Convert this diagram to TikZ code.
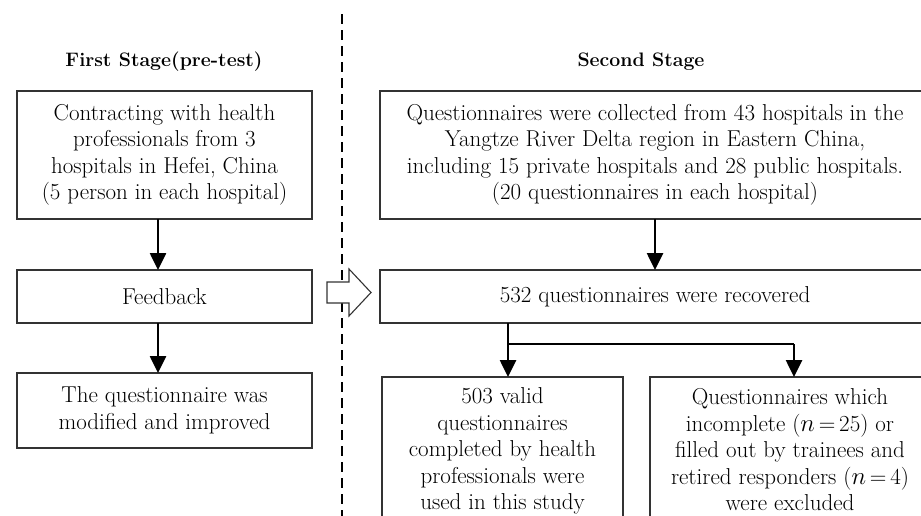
\documentclass[tikz,border=0pt]{standalone}
\usetikzlibrary{arrows.meta}
\begin{document}
\begin{tikzpicture}[x=1pt,y=-1pt,
  box/.style={draw=black!80,line width=1.3pt,fill=white,inner sep=0pt,align=center,font=\fontsize{23}{26.5}\selectfont},
  txt/.style={inner sep=0pt,align=center,font=\fontsize{23}{26.5}\selectfont},
  ttl/.style={font=\fontsize{19.5}{24}\selectfont\bfseries},
  conn/.style={line width=2.6pt,-{Triangle[length=17pt,width=16pt]}},
  sepline/.style={line width=2.4pt,dash pattern=on 10pt off 6pt}]
\useasboundingbox (0,0) rectangle (921,515);
\clip (0,0) rectangle (921,515);
\fill[white] (0,0) rectangle (921,515);
% separator
\draw[sepline] (342,14) -- (342,520);
% titles
\node[ttl] (t1) at (164,62) {First Stage(pre-test)};
\node[ttl] (t2) at (641,62) {Second Stage};
% left column
\node[box,minimum width=295pt,minimum height=128pt] (a1) at (164.5,155) {Contracting with health\\professionals from 3\\hospitals in Hefei, China\\(5 person in each hospital)};
\node[box,minimum width=295pt,minimum height=53pt] (a2) at (164.5,296.5) {Feedback};
\node[box,minimum width=295pt,minimum height=75pt] (a3) at (164.5,410.5) {The questionnaire was\\modified and improved};
\coordinate (a1s) at (158,219);
\coordinate (a2n) at (158,270);
\coordinate (a2s) at (158,323);
\coordinate (a3n) at (158,373);
\draw[conn] (a1s) -- (a2n);
\draw[conn] (a2s) -- (a3n);
% hollow arrow
\draw[draw=black!80,line width=1.1pt,fill=white] (327,282) -- (349,282) -- (349,269) -- (371,292.5) -- (349,316) -- (349,303) -- (327,303) -- cycle;
% right column
\node[box,minimum width=550pt,minimum height=128pt] (b1) at (655,155) {Questionnaires were collected from 43 hospitals in the\\Yangtze River Delta region in Eastern China,\\including 15 private hospitals and 28 public hospitals.\\(20 questionnaires in each hospital)};
\node[box,minimum width=550pt,minimum height=53pt] (b2) at (655,296.5) {532 questionnaires were recovered};
\node[box,minimum width=241pt,minimum height=170pt] (c1) at (502.5,462) {};
\node[box,minimum width=280pt,minimum height=170pt] (c2) at (790,462) {};
\node[txt] (c1t) at (502.5,451) {503 valid\\questionnaires\\completed by health\\professionals were\\used in this study};
\node[txt] (c2t) at (790,450) {Questionnaires which\\incomplete ($n$\,=\,25) or\\filled out by trainees and\\retired responders ($n$\,=\,4)\\were excluded};
\coordinate (b1s) at (655,219);
\coordinate (b2n) at (655,270);
\draw[conn] (b1s) -- (b2n);
\coordinate (b2s) at (508,323);
\coordinate (sp1) at (508,344);
\coordinate (sp2) at (794,344);
\coordinate (c1n) at (508,377);
\coordinate (c2n) at (794,377);
\draw[line width=2.6pt] (b2s) -- (sp1);
\draw[line width=2.6pt] (sp1) -- (sp2);
\draw[conn] (sp1) -- (c1n);
\draw[conn] (sp2) -- (c2n);
\end{tikzpicture}
\end{document}
